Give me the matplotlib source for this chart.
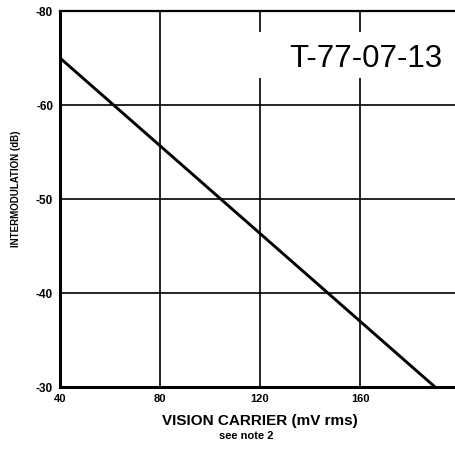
import matplotlib
matplotlib.use("Agg")
import matplotlib.pyplot as plt
from matplotlib.patches import Rectangle

# datos del grafico
carrier_mv = [40, 190]          # VISION CARRIER (mV rms)
intermod_db = [-65.0, -30.0]    # INTERMODULATION (dB)

x_ticks = [40, 80, 120, 160]
x_labels = ["40", "80", "120", "160"]
y_ticks = [-70, -60, -50, -40, -30]
y_labels = ["-80", "-60", "-50", "-40", "-30"]

plt.rcParams["font.family"] = ["Liberation Sans", "DejaVu Sans"]

fig = plt.figure(figsize=(4.55, 4.49), dpi=100)
ax = fig.add_axes([60 / 455, 1 - 387 / 449, 1 - 60 / 455 + 0.01, (387 - 11) / 449])

ax.set_xlim(40, 40 + (455 * 1.01 - 60) / 2.5)
ax.set_ylim(-30, -70)

ax.set_xticks(x_ticks)
ax.set_xticklabels(x_labels, fontsize=8, fontweight="bold")
ax.set_yticks(y_ticks)
ax.set_yticklabels(y_labels, fontsize=8.5, fontweight="bold")
ax.tick_params(length=0, pad=5)

ax.grid(True, color="black", linewidth=1.2)
ax.set_axisbelow(True)

for side in ["left", "bottom"]:
    ax.spines[side].set_linewidth(2.2)
ax.spines["top"].set_linewidth(1.6)
ax.spines["right"].set_visible(False)

# hueco blanco en la rejilla detras del codigo
ax.add_patch(Rectangle((0.47, 0.822), 0.6, 0.122, transform=ax.transAxes,
                       facecolor="white", edgecolor="none", zorder=1.5))

ax.plot(carrier_mv, intermod_db, color="black", linewidth=2.1, zorder=3)

ax.text(0.575, 0.873, "T-77-07-13", transform=ax.transAxes, fontsize=22.5,
        va="center", ha="left", zorder=4)

ax.set_xlabel("VISION CARRIER (mV rms)", fontsize=11, fontweight="bold", labelpad=7)
fig.text(246 / 455, 1 - 436 / 449, "see note 2", fontsize=8, fontweight="bold",
         ha="center", va="center")
ax.set_ylabel("INTERMODULATION (dB)", fontsize=7, fontweight="bold")
ax.yaxis.set_label_coords(-0.098, 0.527)

fig.savefig("out.png", dpi=100)
